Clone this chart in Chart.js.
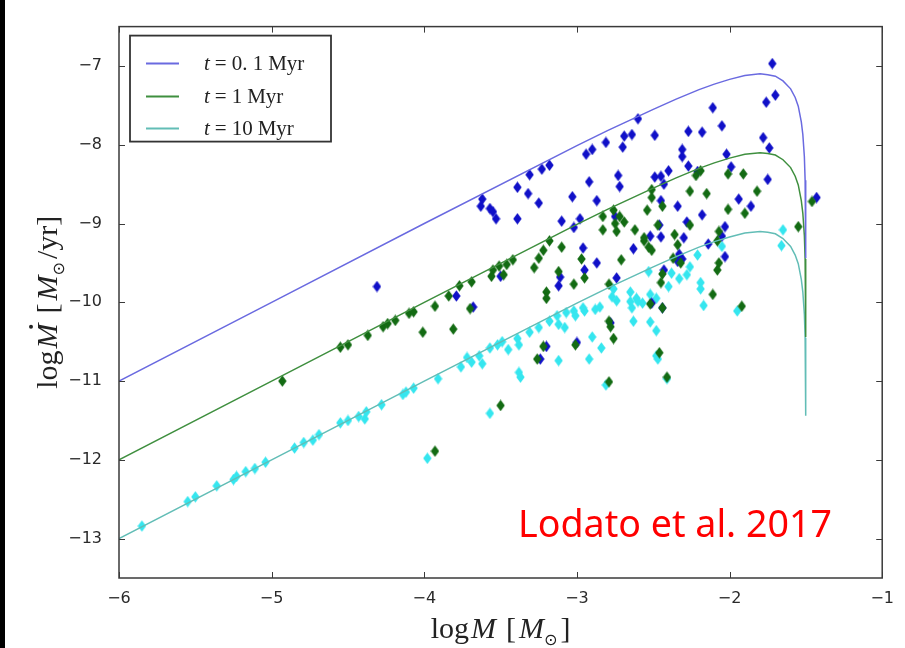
<!DOCTYPE html>
<html><head><meta charset="utf-8">
<script src="https://cdn.jsdelivr.net/npm/chart.js@4"></script>
<style>
html,body{margin:0;padding:0;background:#fff;}
#wrap{position:relative;width:905px;height:648px;}
canvas{display:block;}
</style></head><body>
<div id="wrap"><canvas id="c" width="905" height="648"></canvas></div>
<script>
// ---------- data ----------
const xTicks = [-6, -5, -4, -3, -2, -1];
const yTicks = [-13, -12, -11, -10, -9, -8, -7];
const seriesTimes = ['0. 1', '1', '10'];

const curveLogM = [-6, -5, -4, -3, -2.8, -2.5, -2.35, -2.2, -2.1, -2.0, -1.9, -1.8, -1.75, -1.7, -1.65, -1.6, -1.57, -1.55, -1.53, -1.52, -1.51, -1.505, -1.502, -1.501, -1.5005];
const curve01Myr = [-11.0, -10.0, -9.0, -8.01, -7.82, -7.55, -7.42, -7.30, -7.23, -7.17, -7.12, -7.10, -7.11, -7.13, -7.19, -7.29, -7.40, -7.51, -7.71, -7.87, -8.15, -8.45, -8.84, -9.14, -9.44];
const curve1Myr = [-12.0, -11.0, -10.0, -9.01, -8.82, -8.55, -8.42, -8.30, -8.23, -8.17, -8.12, -8.10, -8.11, -8.13, -8.19, -8.29, -8.40, -8.51, -8.71, -8.87, -9.15, -9.45, -9.84, -10.14, -10.44];
const curve10Myr = [-13.0, -12.0, -11.0, -10.01, -9.82, -9.55, -9.42, -9.30, -9.23, -9.17, -9.12, -9.10, -9.11, -9.13, -9.19, -9.29, -9.40, -9.51, -9.71, -9.87, -10.15, -10.45, -10.84, -11.14, -11.44];

const discs01Myr = [[-1.72,-6.97],[-1.76,-7.46],[-1.70,-7.37],[-2.11,-7.53],[-2.60,-7.67],[-2.49,-7.88],[-2.27,-7.83],[-2.18,-7.84],[-2.05,-7.76],[-2.64,-7.87],[-2.69,-7.89],[-2.70,-8.03],[-2.81,-7.97],[-2.90,-8.06],[-2.94,-8.12],[-3.18,-8.26],[-3.23,-8.31],[-3.31,-8.38],[-3.39,-8.54],[-3.32,-8.62],[-3.25,-8.74],[-3.62,-8.69],[-3.63,-8.78],[-3.57,-8.81],[-3.53,-8.94],[-3.55,-8.85],[-3.39,-8.94],[-3.03,-8.66],[-2.92,-8.47],[-2.87,-8.71],[-2.73,-8.39],[-2.72,-8.53],[-3.10,-8.97],[-2.98,-8.94],[-3.02,-9.05],[-2.49,-8.41],[-1.78,-7.91],[-1.74,-8.04],[-2.31,-8.06],[-2.31,-8.15],[-2.02,-8.12],[-2.27,-8.27],[-2.40,-8.33],[-2.45,-8.40],[-2.43,-8.50],[-2.21,-8.34],[-1.99,-8.28],[-1.75,-8.44],[-1.94,-8.69],[-1.86,-8.78],[-2.45,-8.71],[-2.34,-8.78],[-2.18,-8.89],[-2.03,-9.04],[-2.28,-8.98],[-2.30,-9.18],[-2.46,-9.02],[-2.45,-9.17],[-2.52,-9.16],[-2.14,-9.26],[-2.05,-9.16],[-2.33,-9.39],[-2.31,-9.45],[-2.03,-9.42],[-2.75,-8.91],[-2.96,-9.31],[-2.87,-9.50],[-2.95,-9.59],[-3.11,-9.68],[-3.12,-9.79],[-2.63,-9.32],[-2.74,-9.69],[-3.50,-9.67],[-3.79,-9.92],[-3.68,-10.06],[-4.31,-9.80],[-2.51,-10.01],[-2.43,-9.59],[-2.34,-9.48],[-3.20,-10.56],[-3.24,-10.72],[-3.00,-10.51],[-2.78,-10.26],[-2.44,-10.07],[-1.43,-8.67]];

const discs1Myr = [[-4.93,-11.00],[-4.55,-10.57],[-4.50,-10.54],[-4.37,-10.42],[-4.27,-10.31],[-4.24,-10.27],[-4.19,-10.23],[-4.10,-10.14],[-4.07,-10.12],[-4.01,-10.38],[-3.93,-10.05],[-3.81,-10.34],[-3.84,-9.92],[-3.77,-9.79],[-3.69,-9.74],[-3.70,-10.08],[-3.55,-9.59],[-3.56,-9.67],[-3.51,-9.54],[-3.48,-9.65],[-3.46,-9.52],[-3.42,-9.46],[-3.28,-9.56],[-3.25,-9.44],[-3.22,-9.34],[-3.18,-9.22],[-3.10,-9.30],[-3.20,-9.87],[-3.20,-9.95],[-3.02,-9.77],[-2.95,-9.69],[-3.12,-9.61],[-2.97,-9.45],[-2.51,-8.57],[-2.51,-8.67],[-2.54,-8.83],[-2.76,-8.83],[-2.83,-8.91],[-2.83,-9.08],[-2.75,-9.00],[-2.72,-8.91],[-2.69,-8.98],[-2.74,-9.10],[-2.62,-9.08],[-2.56,-9.22],[-2.53,-9.30],[-2.51,-9.34],[-2.71,-9.46],[-2.79,-9.77],[-2.79,-10.24],[-2.22,-8.39],[-2.19,-8.33],[-2.01,-8.37],[-1.91,-8.37],[-2.26,-8.59],[-2.15,-8.62],[-1.82,-8.59],[-2.44,-8.78],[-2.01,-8.82],[-1.90,-8.87],[-2.47,-9.02],[-2.26,-9.02],[-2.36,-9.14],[-2.34,-9.27],[-2.56,-9.18],[-2.07,-9.10],[-2.08,-9.22],[-2.32,-9.50],[-2.37,-9.44],[-2.44,-9.64],[-2.45,-9.75],[-2.07,-9.50],[-2.08,-9.59],[-1.55,-9.04],[-1.46,-8.72],[-2.11,-9.90],[-1.92,-10.05],[-2.78,-10.31],[-2.52,-10.02],[-2.44,-10.07],[-3.01,-10.54],[-3.22,-10.56],[-3.26,-10.72],[-2.76,-10.46],[-2.46,-10.64],[-2.79,-11.01],[-3.50,-11.31],[-3.93,-11.89],[-2.41,-10.95]];

const discs10Myr = [[-5.85,-12.84],[-5.55,-12.53],[-5.50,-12.47],[-5.36,-12.33],[-5.25,-12.25],[-5.23,-12.21],[-5.17,-12.15],[-5.11,-12.11],[-5.04,-12.03],[-4.85,-11.85],[-4.79,-11.78],[-4.73,-11.75],[-4.69,-11.68],[-4.55,-11.53],[-4.50,-11.50],[-4.43,-11.45],[-4.39,-11.48],[-4.38,-11.39],[-4.28,-11.30],[-4.14,-11.17],[-4.12,-11.14],[-4.07,-11.09],[-3.91,-10.97],[-3.76,-10.82],[-3.72,-10.70],[-3.69,-10.76],[-3.62,-10.78],[-3.64,-10.68],[-3.57,-10.58],[-3.52,-10.54],[-3.49,-10.50],[-3.45,-10.60],[-3.39,-10.46],[-3.38,-10.54],[-3.31,-10.38],[-3.25,-10.32],[-3.18,-10.24],[-3.13,-10.17],[-3.12,-10.28],[-3.08,-10.32],[-3.07,-10.13],[-3.02,-10.11],[-3.01,-10.17],[-2.95,-10.11],[-2.88,-10.09],[-2.96,-10.07],[-2.90,-10.44],[-3.38,-10.89],[-3.37,-10.95],[-3.12,-10.74],[-2.92,-10.72],[-2.84,-10.58],[-3.57,-11.41],[-2.81,-11.05],[-3.98,-11.98],[-2.47,-10.72],[-2.41,-10.97],[-2.48,-10.68],[-2.77,-9.93],[-2.76,-9.83],[-2.65,-9.87],[-2.64,-10.07],[-2.63,-10.24],[-2.52,-10.25],[-2.61,-9.95],[-2.52,-9.90],[-2.65,-9.99],[-2.74,-9.98],[-2.57,-10.01],[-2.85,-10.06],[-2.48,-10.36],[-2.48,-9.95],[-2.40,-9.80],[-2.38,-9.63],[-2.28,-9.65],[-2.21,-9.40],[-2.19,-9.75],[-2.19,-9.83],[-2.17,-10.04],[-1.95,-10.11],[-1.65,-9.08],[-1.66,-9.28],[-2.34,-9.45],[-2.26,-9.55],[-2.53,-9.61],[-2.33,-9.70],[-2.05,-9.29],[-2.60,-9.99]];

// ---------- styles ----------
const lineColors = ['#6a6ae0', '#3f8f3f', '#62bdb6'];
const markColors = ['#1010c8', '#136b13', '#35e6ef'];

function diamond(color) {
  const c = document.createElement('canvas');
  c.width = 9; c.height = 12;
  const g = c.getContext('2d');
  g.fillStyle = color;
  g.beginPath();
  g.moveTo(4.5, 0.3); g.lineTo(8.7, 6); g.lineTo(4.5, 11.7); g.lineTo(0.3, 6);
  g.closePath(); g.fill();
  return c;
}
const toPts = arr => arr.map(p => ({x: p[0], y: p[1]}));
const curvePts = ys => curveLogM.map((x, i) => ({x: x, y: ys[i]}));

function drawParts(ctx, parts, x0, y, align) {
  let w = 0;
  parts.forEach(p => { ctx.font = p.f; p.w = ctx.measureText(p.t).width + (p.gap || 0); w += p.w; });
  let x = align === 'center' ? x0 - w / 2 : x0;
  parts.forEach(p => {
    ctx.font = p.f;
    ctx.fillText(p.t, x, y + (p.dy || 0));
    if (p.dot) {
      ctx.beginPath();
      ctx.arc(x + p.w * 0.62, y - p.dot, 2, 0, Math.PI * 2);
      ctx.fill();
    }
    x += p.w;
  });
}

const overlay = {
  id: 'overlay',
  beforeDraw(chart) {
    const c = chart.ctx;
    c.save();
    c.fillStyle = '#fff'; c.fillRect(0, 0, chart.width, chart.height);
    c.fillStyle = '#000'; c.fillRect(0, 0, 5, chart.height);
    c.restore();
  },
  afterDraw(chart) {
    const ctx = chart.ctx, a = chart.chartArea, xs = chart.scales.x, ys = chart.scales.y;
    ctx.save();
    // frame
    ctx.strokeStyle = '#3a3a3a'; ctx.lineWidth = 1.5;
    ctx.strokeRect(a.left, a.top, a.right - a.left, a.bottom - a.top);
    // inward ticks
    ctx.lineWidth = 1;
    ctx.beginPath();
    xTicks.forEach(v => {
      const p = Math.round(xs.getPixelForValue(v)) + 0.5;
      ctx.moveTo(p, a.bottom); ctx.lineTo(p, a.bottom - 6);
      ctx.moveTo(p, a.top); ctx.lineTo(p, a.top + 6);
    });
    yTicks.forEach(v => {
      const p = Math.round(ys.getPixelForValue(v)) + 0.5;
      ctx.moveTo(a.left, p); ctx.lineTo(a.left + 6, p);
      ctx.moveTo(a.right, p); ctx.lineTo(a.right - 6, p);
    });
    ctx.stroke();

    // legend
    const lx = a.left + 11, ly = a.top + 9;
    ctx.fillStyle = '#fff';
    ctx.fillRect(lx, ly, 201, 106);
    ctx.strokeStyle = '#333'; ctx.lineWidth = 1.8;
    ctx.strokeRect(lx, ly, 201, 106);
    const rows = [28, 61, 93];
    ctx.textBaseline = 'middle';
    rows.forEach((r, i) => {
      ctx.strokeStyle = lineColors[i]; ctx.lineWidth = 2;
      ctx.beginPath(); ctx.moveTo(lx + 16, ly + r); ctx.lineTo(lx + 49, ly + r); ctx.stroke();
      ctx.fillStyle = '#222';
      drawParts(ctx, [
        {t: 't', f: 'italic 21px "Liberation Serif"', gap: 5},
        {t: '=', f: '21px "Liberation Serif"', gap: 5},
        {t: seriesTimes[i], f: '21px "Liberation Serif"', gap: 5},
        {t: 'Myr', f: '21px "Liberation Serif"'}
      ], lx + 74, ly + r + 1, 'left');
    });

    // annotation
    ctx.textBaseline = 'alphabetic';
    ctx.fillStyle = '#ff0000';
    ctx.font = '38px "Noto Sans"';
    const ann = 'Lodato et al. 2017';
    const aw = ctx.measureText(ann).width;
    ctx.save();
    ctx.translate(518, 537);
    ctx.scale(314 / aw, 1);
    ctx.fillText(ann, 0, 0);
    ctx.restore();

    // axis titles
    ctx.fillStyle = '#222';
    const F = '30px "Liberation Serif"', FI = 'italic 30px "Liberation Serif"', FS = '16px "DejaVu Sans"';
    drawParts(ctx, [
      {t: 'log', f: F, gap: 2}, {t: 'M', f: FI, gap: 10},
      {t: '[', f: F, gap: 3}, {t: 'M', f: FI}, {t: '⊙', f: FS, dy: 7, gap: 3}, {t: ']', f: F}
    ], (a.left + a.right) / 2, 638, 'center');
    ctx.save();
    ctx.translate(57, (a.top + a.bottom) / 2);
    ctx.rotate(-Math.PI / 2);
    drawParts(ctx, [
      {t: 'log', f: F, gap: 2}, {t: 'M', f: FI, gap: 10, dot: 26},
      {t: '[', f: F, gap: 3}, {t: 'M', f: FI}, {t: '⊙', f: FS, dy: 7, gap: 3}, {t: '/yr]', f: F}
    ], 0, 0, 'center');
    ctx.restore();
    ctx.restore();
  }
};

const minus = v => (v < 0 ? '\u2212' + Math.abs(v) : String(v));

new Chart(document.getElementById('c'), {
  type: 'scatter',
  data: {
    datasets: [
      {label: 't = 0.1 Myr', data: curvePts(curve01Myr), showLine: true, borderColor: lineColors[0], borderWidth: 1.5, pointRadius: 0, tension: 0, order: 0},
      {label: 't = 1 Myr', data: curvePts(curve1Myr), showLine: true, borderColor: lineColors[1], borderWidth: 1.5, pointRadius: 0, tension: 0, order: 0},
      {label: 't = 10 Myr', data: curvePts(curve10Myr), showLine: true, borderColor: lineColors[2], borderWidth: 1.5, pointRadius: 0, tension: 0, order: 0},
      {label: 'discs 1 Myr', data: toPts(discs1Myr), pointStyle: diamond(markColors[1]), pointRadius: 5, order: 1},
      {label: 'discs 0.1 Myr', data: toPts(discs01Myr), pointStyle: diamond(markColors[0]), pointRadius: 5, order: 2},
      {label: 'discs 10 Myr', data: toPts(discs10Myr), pointStyle: diamond(markColors[2]), pointRadius: 5, order: 3}
    ]
  },
  options: {
    responsive: false,
    animation: false,
    devicePixelRatio: 1,
    layout: {padding: {top: 10, right: 18, bottom: 0, left: 0}},
    plugins: {legend: {display: false}, tooltip: {enabled: false}},
    scales: {
      x: {
        type: 'linear', min: -6, max: -1,
        afterBuildTicks: s => { s.ticks = xTicks.map(v => ({value: v})); },
        afterFit: s => { s.height = 70; },
        grid: {display: false, drawTicks: false, tickLength: 0},
        border: {display: false},
        ticks: {font: {family: 'DejaVu Sans', size: 16}, color: '#2a2a2a', padding: 11, callback: v => minus(v)}
      },
      y: {
        type: 'linear', min: -13.5, max: -6.5,
        afterBuildTicks: s => { s.ticks = yTicks.map(v => ({value: v})); },
        afterFit: s => { s.width = 119; },
        grid: {display: false, drawTicks: false, tickLength: 0},
        border: {display: false},
        ticks: {font: {family: 'DejaVu Sans', size: 16}, color: '#2a2a2a', padding: 17, callback: v => minus(v)}
      }
    }
  },
  plugins: [overlay]
});
</script>
</body></html>
